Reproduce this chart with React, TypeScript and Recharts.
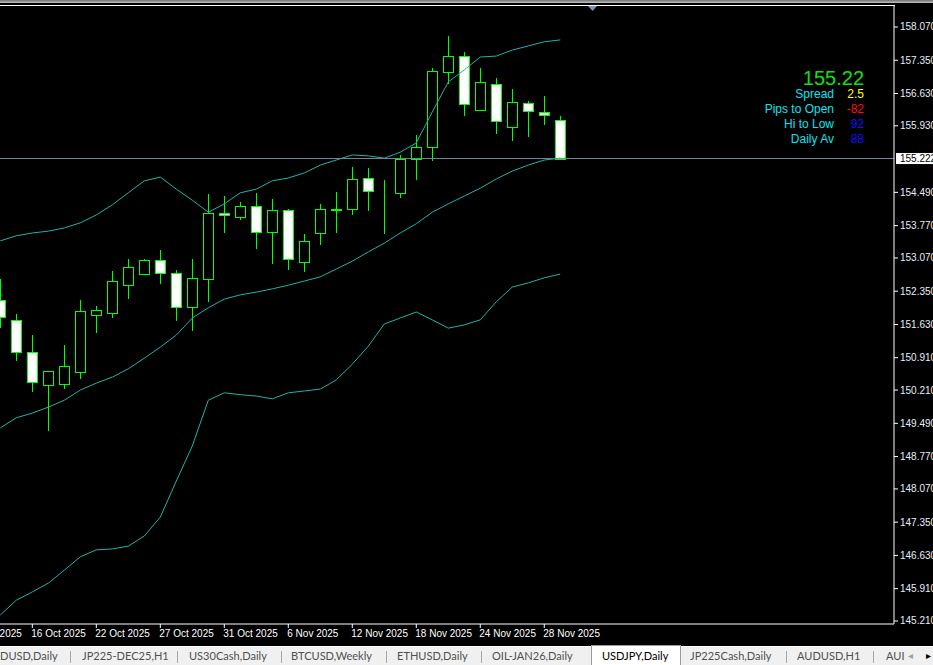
import { Bar, ComposedChart, Line, ReferenceLine, XAxis, YAxis } from 'recharts'

// USDJPY daily bars, oldest first
const dates = [
  '14 Oct 2025', '15 Oct 2025', '16 Oct 2025', '17 Oct 2025', '20 Oct 2025', '21 Oct 2025',
  '22 Oct 2025', '23 Oct 2025', '24 Oct 2025', '26 Oct 2025', '27 Oct 2025', '28 Oct 2025',
  '29 Oct 2025', '30 Oct 2025', '31 Oct 2025', '3 Nov 2025', '4 Nov 2025', '5 Nov 2025',
  '6 Nov 2025', '7 Nov 2025', '10 Nov 2025', '11 Nov 2025', '12 Nov 2025', '13 Nov 2025',
  '14 Nov 2025', '17 Nov 2025', '18 Nov 2025', '19 Nov 2025', '20 Nov 2025', '21 Nov 2025',
  '24 Nov 2025', '25 Nov 2025', '26 Nov 2025', '27 Nov 2025', '28 Nov 2025', '1 Dec 2025',
]
const opens = [
  152.16, 151.72, 151.03, 150.33, 150.35, 150.61, 151.84, 151.88, 152.49, 152.73, 153.02, 152.74,
  152.0, 152.62, 154.04, 153.95, 154.19, 153.63, 154.1, 152.98, 153.62, 154.12, 154.12, 154.79,
  154.53, 154.48, 155.21, 155.48, 157.1, 157.44, 156.27, 156.83, 155.9, 156.42, 156.22, 156.05,
]
const highs = [
  152.61, 151.86, 151.4, 150.62, 151.19, 152.16, 152.03, 152.79, 153.04, 153.04, 153.24, 152.81,
  153.04, 154.45, 154.41, 154.28, 154.47, 154.34, 154.12, 153.59, 154.24, 154.5, 155.03, 155.01,
  154.75, 155.3, 155.73, 157.18, 157.88, 157.52, 157.18, 156.96, 156.72, 156.47, 156.57, 156.14,
]
const lows = [
  151.58, 150.87, 150.2, 149.35, 150.26, 150.46, 151.47, 151.8, 152.21, 152.73, 152.53, 151.73,
  151.52, 152.14, 153.64, 153.91, 153.29, 152.95, 152.82, 152.79, 153.38, 153.64, 154.03, 154.11,
  153.6, 154.4, 154.78, 155.2, 156.86, 156.17, 156.27, 155.78, 155.63, 155.7, 155.96, 155.22,
]
const closes = [
  151.8, 151.03, 150.39, 150.62, 150.72, 151.92, 151.94, 152.56, 152.87, 153.02, 152.75, 152.0,
  152.63, 154.04, 153.99, 154.19, 153.64, 154.1, 153.04, 153.43, 154.12, 154.11, 154.77, 154.53,
  154.52, 155.21, 155.47, 157.11, 157.44, 156.4, 156.87, 156.03, 156.44, 156.25, 156.16, 155.222,
]

// Bollinger bands (20)
const bandUpper = [
  153.44, 153.55, 153.61, 153.65, 153.72, 153.83, 154.0, 154.22, 154.48, 154.74, 154.82, 154.56,
  154.32, 154.06, 154.24, 154.48, 154.56, 154.74, 154.8, 154.91, 155.08, 155.19, 155.3, 155.28,
  155.23, 155.36, 155.56, 156.23, 156.88, 157.14, 157.42, 157.44, 157.57, 157.66, 157.75, 157.79,
]
const bandMiddle = [
  149.39, 149.61, 149.71, 149.84, 149.99, 150.21, 150.36, 150.49, 150.67, 150.9, 151.14, 151.4,
  151.77, 151.99, 152.18, 152.27, 152.33, 152.4, 152.48, 152.57, 152.66, 152.83, 153.0, 153.2,
  153.39, 153.61, 153.81, 154.06, 154.24, 154.41, 154.58, 154.78, 154.95, 155.08, 155.19, 155.23,
]
const bandLower = [
  145.34, 145.66, 145.84, 146.03, 146.31, 146.6, 146.75, 146.77, 146.83, 147.05, 147.46, 148.24,
  149.0, 149.99, 150.15, 150.11, 150.08, 150.02, 150.15, 150.19, 150.23, 150.43, 150.77, 151.16,
  151.64, 151.77, 151.9, 151.73, 151.55, 151.62, 151.73, 152.12, 152.44, 152.53, 152.64, 152.72,
]

const priceTicks = [
  158.07, 157.35, 156.63, 155.93, 154.49, 153.77, 153.07, 152.35, 151.63, 150.91, 150.21, 149.49,
  148.77, 148.07, 147.35, 146.63, 145.91, 145.21,
]
const dateTickIndexes = [-2, 2, 6, 10, 14, 18, 22, 26, 30, 34]
const offLeftDate = '10 Oct 2025'
const bidPrice = 155.222

const infoPrice = '155.22'
const infoLabels = ['Spread', 'Pips to Open', 'Hi to Low', 'Daily Av']
const infoValues = ['2.5', '-82', '92', '88']
const infoColors = ['#ffff00', '#ff1010', '#1010ff', '#1010ff']

const tabNames = [
  'DUSD,Daily', 'JP225-DEC25,H1', 'US30Cash,Daily', 'BTCUSD,Weekly', 'ETHUSD,Daily',
  'OIL-JAN26,Daily', 'USDJPY,Daily', 'JP225Cash,Daily', 'AUDUSD,H1', 'AUI',
]
const tabLeft = [0, 82, 189, 291, 397, 492, 602, 690, 797, 886]
const tabSeparators = [70, 177, 281, 386, 481, 786, 873]
const activeTab = 6

const GREEN = '#00ff00'
const BAND = '#20b2aa'
const FONT = '"Liberation Sans", Arial, sans-serif'

const data = dates.map((date, i) => ({
  idx: i,
  date,
  open: opens[i],
  high: highs[i],
  low: lows[i],
  close: closes[i],
  range: [lows[i], highs[i]],
  upper: bandUpper[i],
  middle: bandMiddle[i],
  lower: bandLower[i],
}))

function Candle(props: any) {
  const { x, y, width, height, payload } = props
  if (!payload || height == null) return null
  const top = Math.min(y, y + height)
  const span = Math.abs(height)
  const perUnit = span / (payload.high - payload.low)
  const toY = (v: number) => top + (payload.high - v) * perUnit
  const cx = Math.round(x + width / 2) + 0.5
  const bodyTop = Math.round(toY(Math.max(payload.open, payload.close))) + 0.5
  const bodyBottom = Math.round(toY(Math.min(payload.open, payload.close))) + 0.5
  const bull = payload.close >= payload.open
  return (
    <g>
      <line x1={cx} x2={cx} y1={Math.round(top)} y2={Math.round(top + span) + 1} stroke={GREEN} strokeWidth={1} />
      <rect
        x={cx - 5}
        y={bodyTop}
        width={10}
        height={Math.max(bodyBottom - bodyTop, 0)}
        fill={bull ? '#000000' : '#ffffff'}
        stroke={GREEN}
        strokeWidth={1}
      />
    </g>
  )
}

function PriceTick(props: any) {
  const { x, y, payload } = props
  return (
    <text x={x} y={y + 3.5} fill="#e8eef8" fontSize={10} fontFamily={FONT}>
      {Number(payload.value).toFixed(3)}
    </text>
  )
}

function DateTick(props: any) {
  const { x, y, payload } = props
  const idx = Number(payload.value)
  const label = idx < 0 ? offLeftDate : dates[idx]
  return (
    <text x={x - 1} y={y + 7} fill="#ffffff" fontSize={10} fontFamily={FONT}>
      {label}
    </text>
  )
}

function BidLabel(props: any) {
  const vb = props.viewBox
  if (!vb) return null
  const x = vb.x + vb.width + 2
  const y = vb.y
  return (
    <g>
      <rect x={x} y={y - 5.5} width={40} height={11} fill="#ffffff" />
      <text x={x + 4} y={y + 3.5} fill="#000000" fontSize={10} fontFamily={FONT}>
        {bidPrice.toFixed(3)}
      </text>
    </g>
  )
}

export default function App() {
  return (
    <div
      style={{
        position: 'fixed',
        left: 0,
        top: 0,
        width: 933,
        height: 665,
        background: '#000000',
        overflow: 'hidden',
      }}
    >
      <div style={{ position: 'absolute', left: 0, top: 0 }}>
        <ComposedChart width={933} height={646} data={data} margin={{ top: 5, right: 0, bottom: 0, left: 0 }}>
          <XAxis
            dataKey="idx"
            type="number"
            domain={[-0.02, 55.86]}
            allowDataOverflow
            ticks={dateTickIndexes}
            interval={0}
            height={22}
            tickSize={4}
            tickMargin={2}
            axisLine={{ stroke: '#ffffff' }}
            tickLine={{ stroke: '#ffffff' }}
            tick={<DateTick />}
          />
          <YAxis
            orientation="right"
            type="number"
            domain={[145.145, 158.546]}
            allowDataOverflow
            ticks={priceTicks}
            interval={0}
            width={39}
            tickSize={4}
            tickMargin={2}
            axisLine={{ stroke: '#ffffff' }}
            tickLine={{ stroke: '#ffffff' }}
            tick={<PriceTick />}
          />
          <Line type="linear" dataKey="upper" stroke={BAND} strokeWidth={1} dot={false} isAnimationActive={false} />
          <Line type="linear" dataKey="middle" stroke={BAND} strokeWidth={1} dot={false} isAnimationActive={false} />
          <Line type="linear" dataKey="lower" stroke={BAND} strokeWidth={1} dot={false} isAnimationActive={false} />
          <ReferenceLine y={bidPrice} stroke="#778899" strokeWidth={1} label={<BidLabel />} />
          <Bar dataKey="range" barSize={10} shape={<Candle />} isAnimationActive={false} />
        </ComposedChart>
      </div>

      {/* window chrome and frame top */}
      <div style={{ position: 'absolute', left: 0, top: 0, width: 933, height: 3, background: 'linear-gradient(#6e6e6e, #c4c4c4)' }} />
      <div style={{ position: 'absolute', left: 0, top: 5, width: 895, height: 1, background: '#ffffff' }} />
      <svg style={{ position: 'absolute', left: 0, top: 0 }} width={933} height={14}>
        <polygon points="588,6 597,6 592.5,11" fill="#8391a8" />
      </svg>

      {/* info panel */}
      <div
        style={{
          position: 'absolute',
          right: 933 - 864,
          top: 69,
          fontFamily: FONT,
          fontSize: 20,
          lineHeight: '18px',
          color: '#10e010',
        }}
      >
        {infoPrice}
      </div>
      {infoLabels.map((label, i) => (
        <div key={label}>
          <div
            style={{
              position: 'absolute',
              right: 933 - 834,
              top: 88 + i * 15,
              fontFamily: FONT,
              fontSize: 12,
              lineHeight: '12px',
              color: '#10e0f0',
              whiteSpace: 'nowrap',
            }}
          >
            {label}
          </div>
          <div
            style={{
              position: 'absolute',
              right: 933 - 864,
              top: 88 + i * 15,
              fontFamily: FONT,
              fontSize: 12,
              lineHeight: '12px',
              color: infoColors[i],
              whiteSpace: 'nowrap',
            }}
          >
            {infoValues[i]}
          </div>
        </div>
      ))}

      {/* tab bar */}
      <div style={{ position: 'absolute', left: 0, top: 646, width: 933, height: 19, background: '#f0f0f0', borderTop: '1px solid #ffffff' }} />
      <div
        style={{
          position: 'absolute',
          left: 591,
          top: 645,
          width: 88,
          height: 20,
          background: '#ffffff',
          borderLeft: '1px solid #9a9a9a',
          borderRight: '1px solid #9a9a9a',
          borderTop: '1px solid #9a9a9a',
        }}
      />
      {tabSeparators.map((sx) => (
        <div key={sx} style={{ position: 'absolute', left: sx, top: 651, width: 1, height: 12, background: '#a8a8a8' }} />
      ))}
      {tabNames.map((name, i) => (
        <div
          key={name}
          style={{
            position: 'absolute',
            left: tabLeft[i],
            top: 648,
            fontFamily: 'Lato, "Noto Sans", sans-serif',
            fontSize: 12,
            lineHeight: '16px',
            color: i === activeTab ? '#000000' : '#505050',
            whiteSpace: 'nowrap',
            transform: 'scaleX(0.92)',
            transformOrigin: 'left center',
          }}
        >
          {name}
        </div>
      ))}
      <div style={{ position: 'absolute', left: 908, top: 648, fontFamily: '"DejaVu Sans", sans-serif', fontSize: 10, lineHeight: '16px', color: '#a0a0a0' }}>
        ◂
      </div>
      <div style={{ position: 'absolute', left: 926, top: 648, fontFamily: '"DejaVu Sans", sans-serif', fontSize: 10, lineHeight: '16px', color: '#000000' }}>
        ▸
      </div>
    </div>
  )
}
